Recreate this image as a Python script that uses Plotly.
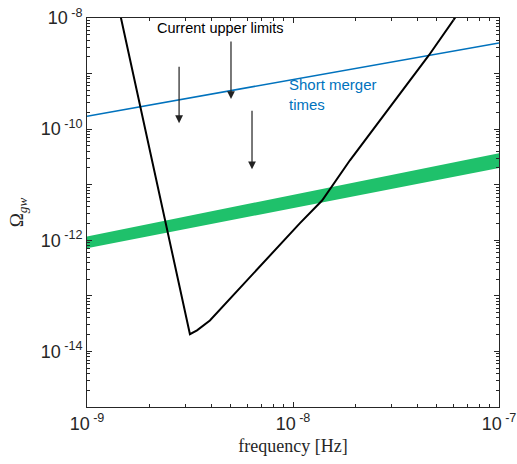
import plotly.graph_objects as go

# Sensitivity / upper-limit curve (black)
curve_f = [1.43e-9, 1.462e-9, 3.16e-9, 3.42e-9, 3.95e-9, 5.41e-9, 1.081e-8, 1.384e-8,
           1.89e-8, 4.57e-8, 6.11e-8, 6.5e-8]
curve_omega = [1.5e-8, 1.0e-8, 2.04e-14, 2.4e-14, 3.6e-14, 1.26e-13, 2.04e-12, 5.2e-12,
               2.75e-11, 2.14e-9, 1.0e-8, 1.6e-8]

# Short merger times line (blue)
merger_f = [1e-9, 1e-7]
merger_omega = [1.71e-10, 3.55e-9]

# Green band
band_f = [1e-9, 1e-7]
band_hi = [1.17e-12, 3.7e-11]
band_lo = [7.2e-13, 2.0e-11]

# Tick labels
x_tickvals = [1e-9, 1e-8, 1e-7]
x_ticktext = ["10<sup> -9</sup>", "10<sup> -8</sup>", "10<sup> -7</sup>"]
y_tickvals = [1e-15, 1e-14, 1e-13, 1e-12, 1e-11, 1e-10, 1e-9, 1e-8]
y_ticktext = ["", "10<sup> -14</sup>", "", "10<sup> -12</sup>", "", "10<sup> -10</sup>", "", "10<sup> -8</sup>"]

GREEN = "#1fc16b"
BLUE = "#0072BD"
AX = "#262626"

x_minor = [m * 10.0 ** k for k in range(-9, -7) for m in range(2, 10)]
y_minor = [m * 10.0 ** k for k in range(-15, -8) for m in range(2, 10)]

fig = go.Figure()

fig.add_trace(go.Scatter(x=band_f, y=band_lo, mode="lines", line=dict(width=0, color=GREEN),
                         showlegend=False, hoverinfo="skip"))
fig.add_trace(go.Scatter(x=band_f, y=band_hi, mode="lines", line=dict(width=0, color=GREEN),
                         fill="tonexty", fillcolor=GREEN, showlegend=False, hoverinfo="skip"))
fig.add_trace(go.Scatter(x=merger_f, y=merger_omega, mode="lines",
                         line=dict(color=BLUE, width=1.6), showlegend=False))
fig.add_trace(go.Scatter(x=curve_f, y=curve_omega, mode="lines",
                         line=dict(color="black", width=2), showlegend=False))

# arrows (tips in log10 units, lengths in pixels)
arrows = [(-8.553, -9.892, 58), (-8.301, -9.459, 59), (-8.199, -10.721, 60)]
for ax_, ay_, ln in arrows:
    fig.add_annotation(x=ax_, y=ay_, xref="x", yref="y", ax=0, ay=-ln, showarrow=True,
                       arrowhead=2, arrowsize=1.3, arrowwidth=1.2, arrowcolor="#222222", text="")

fig.add_annotation(x=-8.353, y=-8.18, xref="x", yref="y", text="Current upper limits",
                   showarrow=False, font=dict(family="Liberation Sans", size=14.5, color="black"))
fig.add_annotation(x=-8.03, y=-9.37, xref="x", yref="y", xanchor="left",
                   text="Short merger<br>times", showarrow=False, align="left",
                   font=dict(family="Liberation Sans", size=15, color=BLUE))

axis_common = dict(
    showline=True, linecolor=AX, linewidth=1, mirror="allticks", automargin=False,
    ticks="inside", ticklen=5, tickcolor=AX, showgrid=False, zeroline=False,
    ticklabeloverflow="allow",
    tickfont=dict(family="Liberation Sans", size=18, color=AX),
)

fig.update_xaxes(type="log", range=[-9, -7], tickmode="array", tickvals=x_tickvals,
                 ticktext=x_ticktext,
                 minor=dict(ticks="inside", ticklen=3, tickcolor=AX, showgrid=False,
                            tickmode="array", tickvals=x_minor),
                 title=dict(text="frequency [Hz]", font=dict(family="Liberation Serif", size=18, color=AX),
                            standoff=6),
                 **axis_common)
fig.update_yaxes(type="log", range=[-15, -8], tickmode="array", tickvals=y_tickvals,
                 ticktext=y_ticktext,
                 minor=dict(ticks="inside", ticklen=3, tickcolor=AX, showgrid=False,
                            tickmode="array", tickvals=y_minor),
                 title=dict(text="Ω<sub><i>gw</i></sub>", font=dict(family="Liberation Serif", size=19, color=AX),
                            standoff=12),
                 **axis_common)

fig.update_layout(width=517, height=464, margin=dict(l=87, r=18, t=18, b=57),
                  plot_bgcolor="white", paper_bgcolor="white")

# remove the default 8px body margin so the figure fills the window exactly
fig.write_html("out.html", config={"displayModeBar": False},
               post_script="document.body.style.margin='0';")
